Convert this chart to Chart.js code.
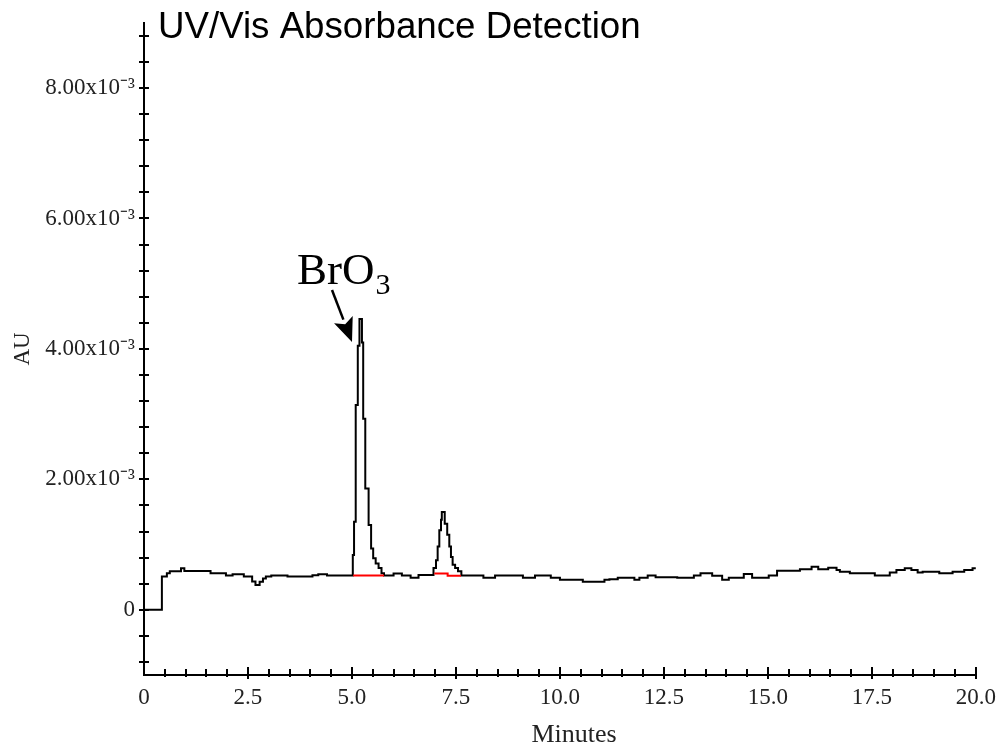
<!DOCTYPE html>
<html><head><meta charset="utf-8">
<script src="https://cdn.jsdelivr.net/npm/chart.js@4/dist/chart.umd.min.js"></script>
<style>html,body{margin:0;padding:0;background:#fff;overflow:hidden}</style>
</head><body>
<canvas id="c" width="1005" height="748"></canvas>
<script>
// Retention time (minutes) – each value holds until the next time
const timeMin = [0,0.43,0.55,0.62,0.89,0.97,1.60,1.97,2.13,2.40,2.60,2.68,2.78,2.86,2.93,3.06,3.45,4.05,4.19,4.40,
  5.02,5.05,5.09,5.14,5.18,5.24,5.27,5.32,5.40,5.46,5.51,5.57,5.64,5.71,5.77,
  6.0,6.2,6.41,6.6,
  6.96,7.02,7.06,7.10,7.14,7.16,7.23,7.29,7.34,7.38,7.42,7.48,7.55,7.63,
  8.16,8.44,9.11,9.40,9.78,10.0,10.55,11.07,11.19,11.39,11.79,11.91,12.11,12.30,12.82,13.22,13.38,13.66,13.90,14.06,
  14.42,14.62,15.02,15.22,15.77,16.05,16.21,16.45,16.65,16.73,16.97,17.57,17.93,18.09,18.29,18.45,18.60,18.72,
  19.12,19.44,19.72,19.92,20.0];
// Absorbance in units of 10^-3 AU
const absorbance = [0,0.51,0.56,0.59,0.635,0.595,0.56,0.525,0.545,0.51,0.435,0.38,0.43,0.48,0.51,0.525,0.51,0.53,0.545,0.525,
  0.84,1.35,3.14,4.05,4.46,4.10,2.93,1.86,1.30,0.94,0.79,0.71,0.64,0.56,0.525,
  0.555,0.525,0.49,0.535,
  0.64,0.76,0.97,1.22,1.38,1.50,1.32,1.15,0.97,0.81,0.69,0.64,0.59,0.525,
  0.49,0.525,0.49,0.525,0.49,0.46,0.43,0.46,0.47,0.49,0.46,0.49,0.525,0.50,0.49,0.525,0.56,0.52,0.46,0.49,
  0.55,0.49,0.525,0.60,0.62,0.66,0.62,0.645,0.61,0.585,0.56,0.525,0.57,0.61,0.635,0.61,0.57,0.585,
  0.56,0.585,0.61,0.635,0.635];
// Integration baselines (red)
const baseline1Time = [5.03, 5.77];
const baseline1Value = [0.525, 0.525];
const baseline2Time = [6.98, 7.30, 7.62];
const baseline2Value = [0.555, 0.52, 0.52];
// Tick labels
const yTickValues = [0, 2, 4, 6, 8];
const yTickLabels = ["0", "2.00x10\u207B\u00B3", "4.00x10\u207B\u00B3", "6.00x10\u207B\u00B3", "8.00x10\u207B\u00B3"];
const xTickValues = [0, 2.5, 5, 7.5, 10, 12.5, 15, 17.5, 20];
const xTickLabels = ["0", "2.5", "5.0", "7.5", "10.0", "12.5", "15.0", "17.5", "20.0"];
const chartTitle = "UV/Vis Absorbance Detection";
const xAxisTitle = "Minutes";
const peakLabel = "BrO";
const peakLabelSub = "3";

const toXY = (xs, ys) => xs.map((x, i) => ({x: x, y: ys[i]}));
const SERIF = '"Liberation Serif","Times New Roman",serif';
const SANS = '"Liberation Sans",Arial,sans-serif';
const isMult = (v, s) => Math.abs(v / s - Math.round(v / s)) < 1e-6;

const extras = {
  id: 'extras',
  afterDraw(chart) {
    const ctx = chart.ctx, xs = chart.scales.x, ys = chart.scales.y;
    const a = chart.chartArea;
    ctx.save();
    ctx.strokeStyle = '#000';
    ctx.fillStyle = '#000';
    ctx.lineWidth = 2;
    // y ticks every 0.4
    for (let i = -2; i <= 22; i++) {
      const py = Math.round(ys.getPixelForValue(i * 0.4));
      ctx.beginPath(); ctx.moveTo(a.left - 5, py); ctx.lineTo(a.left + 5, py); ctx.stroke();
    }
    // x ticks every 0.5
    for (let i = 1; i <= 40; i++) {
      const v = i * 0.5;
      const px = Math.round(xs.getPixelForValue(v));
      const major = isMult(v, 2.5);
      ctx.beginPath();
      ctx.moveTo(px, a.bottom - (major ? 8 : 6));
      ctx.lineTo(px, a.bottom + (major ? 4 : 2));
      ctx.stroke();
    }
    // title
    ctx.font = '36.7px ' + SANS;
    ctx.textBaseline = 'alphabetic';
    ctx.textAlign = 'left';
    ctx.fillText(chartTitle, 158, 38);
    // x axis title
    ctx.fillStyle = '#222';
    ctx.font = '26px ' + SERIF;
    ctx.textAlign = 'center';
    ctx.fillText(xAxisTitle, 574, 742);
    ctx.textAlign = 'left';
    ctx.fillStyle = '#000';
    // peak annotation
    ctx.font = '45px ' + SERIF;
    ctx.fillText(peakLabel, 297, 284);
    const w = ctx.measureText(peakLabel).width;
    ctx.font = '30px ' + SERIF;
    ctx.fillText(peakLabelSub, 298 + w, 294);
    // arrow
    const x0 = 332, y0 = 290, x1 = 352, y1 = 342;
    const ang = Math.atan2(y1 - y0, x1 - x0);
    const hl = 24, hw = 10;
    const bx = x1 - hl * Math.cos(ang), by = y1 - hl * Math.sin(ang);
    ctx.lineWidth = 2.5;
    ctx.beginPath(); ctx.moveTo(x0, y0); ctx.lineTo(bx, by); ctx.stroke();
    ctx.beginPath();
    ctx.moveTo(x1, y1);
    ctx.lineTo(bx + hw * Math.sin(ang), by - hw * Math.cos(ang));
    ctx.lineTo(bx + 5 * Math.cos(ang), by + 5 * Math.sin(ang));
    ctx.lineTo(bx - hw * Math.sin(ang), by + hw * Math.cos(ang));
    ctx.closePath(); ctx.fill();
    ctx.restore();
  }
};

new Chart(document.getElementById('c'), {
  type: 'scatter',
  data: {
    datasets: [
      {data: toXY(timeMin, absorbance), showLine: true, stepped: true, borderColor: '#000', borderWidth: 2, pointRadius: 0, order: 2},
      {data: toXY(baseline1Time, baseline1Value), showLine: true, stepped: true, borderColor: '#ff0000', borderWidth: 2, pointRadius: 0, order: 1},
      {data: toXY(baseline2Time, baseline2Value), showLine: true, stepped: true, borderColor: '#ff0000', borderWidth: 2, pointRadius: 0, order: 1}
    ]
  },
  options: {
    responsive: false,
    animation: false,
    devicePixelRatio: 1,
    layout: {padding: {top: 20, right: 25, left: 0, bottom: 0}},
    plugins: {legend: {display: false}, tooltip: {enabled: false}, title: {display: false}},
    scales: {
      x: {
        type: 'linear', min: 0, max: 20,
        grid: {display: false, drawTicks: false},
        border: {display: true, color: '#000', width: 2},
        afterBuildTicks: (s) => { s.ticks = xTickValues.map(v => ({value: v})); },
        ticks: {
          autoSkip: false, maxRotation: 0, padding: 9,
          color: '#222', font: {family: SERIF, size: 23},
          callback: (v) => { const i = xTickValues.indexOf(v); return i >= 0 ? xTickLabels[i] : ''; }
        },
        title: {display: false},
        afterFit: (s) => { s.height = 73; }
      },
      y: {
        type: 'linear', min: -1, max: 9,
        grid: {display: false, drawTicks: false},
        border: {display: true, color: '#000', width: 2},
        afterBuildTicks: (s) => { s.ticks = yTickValues.map(v => ({value: v})); },
        ticks: {
          autoSkip: false, padding: 9,
          color: '#222', font: {family: SERIF, size: 23},
          callback: (v) => { const i = yTickValues.indexOf(v); return i >= 0 ? yTickLabels[i] : ''; }
        },
        title: {display: true, text: 'AU', color: '#222', font: {family: SERIF, size: 23}, padding: {top: 9, bottom: 0}},
        afterFit: (s) => { s.width = 144; }
      }
    }
  },
  plugins: [extras]
});
</script>
</body></html>
